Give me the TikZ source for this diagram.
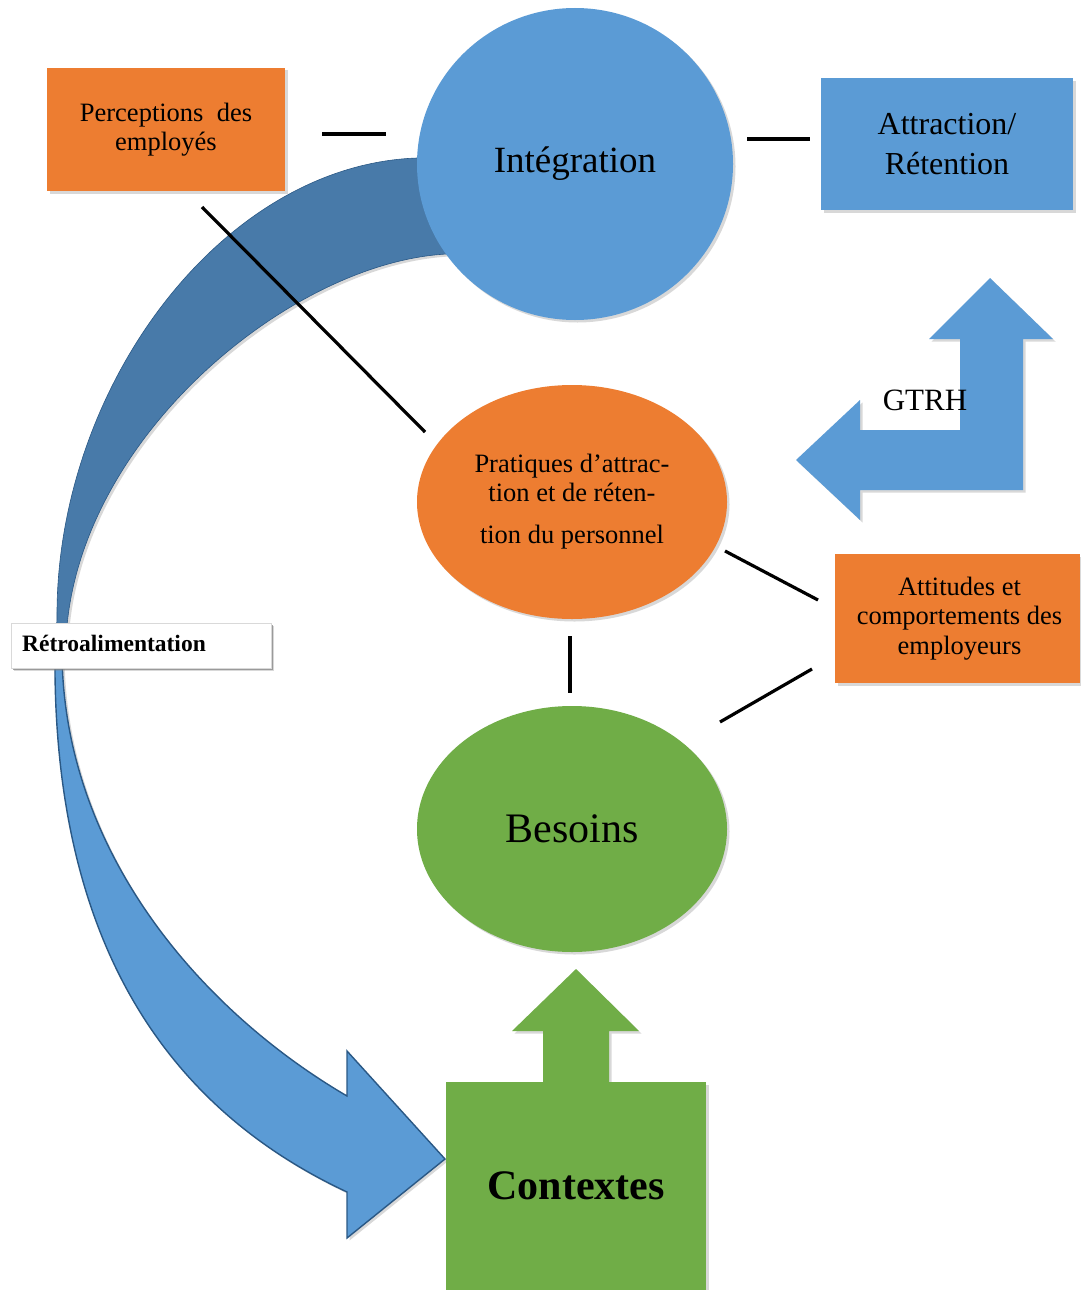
\documentclass[tikz,border=0pt]{standalone}
\usepackage{fontspec}
\setmainfont{Liberation Serif}
\usetikzlibrary{shapes.geometric,shadows}
\definecolor{orng}{HTML}{ED7D31}
\definecolor{blu}{HTML}{5B9BD5}
\definecolor{grn}{HTML}{70AD47}
\definecolor{dblu}{HTML}{487AA9}
\definecolor{edgeblu}{HTML}{2A5885}
\begin{document}
\begin{tikzpicture}[x=1pt,y=-1pt,
  shd/.style={drop shadow={shadow xshift=2.5pt,shadow yshift=-2.5pt,opacity=0.3}},
  box/.style={rectangle,inner sep=0pt,align=center,shd},
  ell/.style={ellipse,inner sep=0pt,align=center,shd},
  link/.style={line width=3.2pt,black}]
\useasboundingbox[fill=white] (0,0) rectangle (1080,1290);

% upper dark band of the feedback arrow
\path[fill=dblu,draw=edgeblu,line width=0.6pt,shd]
  (470,154) -- (417,158) .. controls (220,165) and (55,390) .. (57,619) -- (55,650)
  -- (62,650) -- (66,640) .. controls (75,440) and (290,262) .. (447,254) -- (470,254)
  -- cycle;

% lower light curved arrow
\path[fill=blu,draw=edgeblu,line width=1.4pt,line join=miter,shd]
  (55,645) -- (55,650) .. controls (52,920) and (150,1100) .. (347,1192)
  -- (347,1238) -- (445,1159) -- (347,1051) -- (347,1096)
  .. controls (200,1010) and (62,850) .. (62,650) -- (62,645)
  -- cycle;

% GTRH bent arrow
\path[fill=blu,shd] (990,278) -- (1053,339) -- (1023,339) -- (1023,490) -- (860,490)
  -- (860,520) -- (796,460) -- (860,400) -- (860,430) -- (960,430) -- (960,339)
  -- (929,339) -- cycle;
\node[font=\fontsize{31}{36}\selectfont] (gtrh) at (925,400) {GTRH};

% green up arrow
\path[fill=grn,shd] (576,969) -- (639,1031) -- (609,1031) -- (609,1084) -- (543,1084)
  -- (543,1031) -- (512,1031) -- cycle;

% nodes
\node[box,fill=orng,minimum width=238pt,minimum height=123pt,
  font=\fontsize{26.5}{29}\selectfont] (perc) at (166,129.5)
  {Perceptions\ \ des\\employés};
\node[ell,fill=blu,minimum width=316pt,minimum height=312pt,
  font=\fontsize{37}{42}\selectfont] (integ) at (575,164) {\raisebox{-3pt}{Intégration}};
\node[box,fill=blu,minimum width=252pt,minimum height=132pt,
  font=\fontsize{32}{40}\selectfont] (attr) at (947,144) {Attraction/\\Rétention};
\node[ell,fill=orng,minimum width=310pt,minimum height=234pt,
  font=\fontsize{26.5}{29}\selectfont] (prat) at (572,502)
  {Pratiques d’attrac-\\tion et de réten-\\[13pt]tion du personnel};
\node[box,fill=orng,minimum width=245pt,minimum height=129pt,
  font=\fontsize{26.5}{29.5}\selectfont] (att) at (957.5,618.5)
  {\hspace*{4pt}Attitudes et\\\hspace*{4pt}comportements des\\\hspace*{4pt}employeurs};
\node[ell,fill=grn,minimum width=310pt,minimum height=246pt,
  font=\fontsize{42}{48}\selectfont] (bes) at (572,829) {Besoins};
\node[box,fill=grn,minimum width=260pt,minimum height=208pt,
  font=\fontsize{42}{48}\selectfont\bfseries] (ctx) at (576,1186) {Contextes};
\node[box,fill=white,draw=black!15,line width=0.5pt,minimum width=260pt,minimum height=45pt,
  drop shadow={shadow xshift=2pt,shadow yshift=-2pt,opacity=0.7}] (retro) at (141,645.5) {};
\node[anchor=west,inner sep=0pt,font=\fontsize{23.5}{26}\selectfont\bfseries] (retrot) at (22,643)
  {Rétroalimentation};

% connectors
\coordinate (l1a) at (322,134); \coordinate (l1b) at (386,134);
\coordinate (l2a) at (747,139); \coordinate (l2b) at (810,139);
\coordinate (l3a) at (202,207); \coordinate (l3b) at (425,432);
\coordinate (l4a) at (725,551); \coordinate (l4b) at (818,600);
\coordinate (l5a) at (570,636); \coordinate (l5b) at (570,693);
\coordinate (l6a) at (720,722); \coordinate (l6b) at (812,669);
\draw[link] (l1a) -- (l1b);
\draw[link] (l2a) -- (l2b);
\draw[link] (l3a) -- (l3b);
\draw[link] (l4a) -- (l4b);
\draw[link] (l5a) -- (l5b);
\draw[link] (l6a) -- (l6b);
\end{tikzpicture}
\end{document}
